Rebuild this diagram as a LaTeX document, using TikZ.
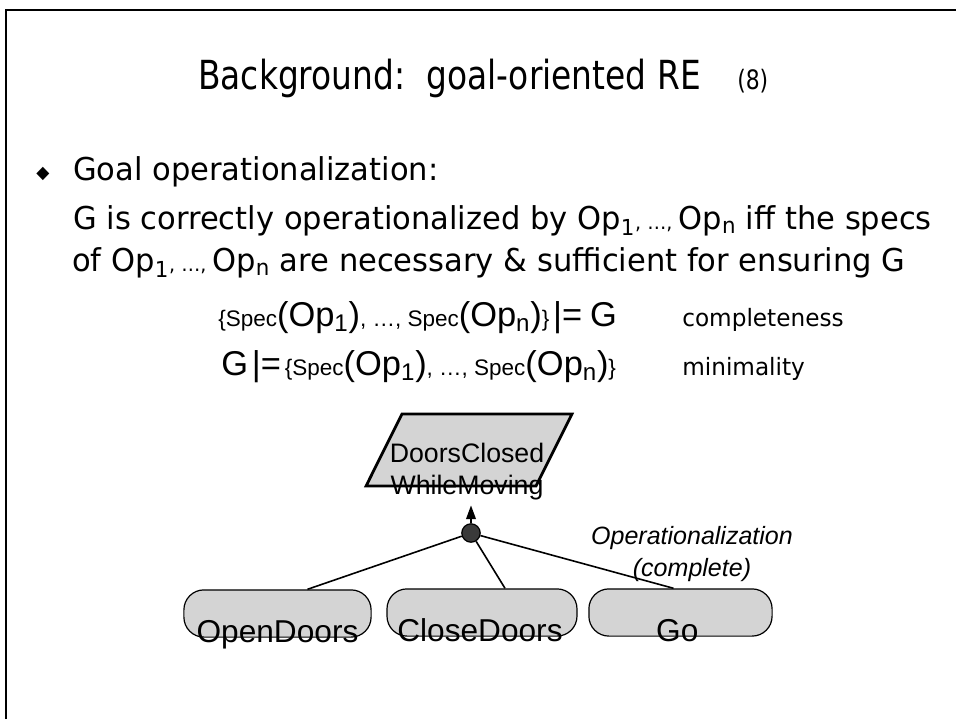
\documentclass[tikz,border=0pt]{standalone}
\usepackage{fontspec}
\usetikzlibrary{positioning,arrows.meta,shapes.geometric,calc}
\setmainfont{Liberation Sans}
\newfontfamily\slidefont[FakeStretch=0.97]{DejaVu Sans}
\newfontfamily\titlefont[FakeStretch=0.82]{DejaVu Sans}
\definecolor{boxgray}{HTML}{D4D4D4}
\definecolor{andgray}{HTML}{3A3A3A}
\newcommand\specsmall{\fontsize{16}{18}\selectfont}
\newcommand\specbig{\fontsize{24.5}{28}\selectfont}
\newcommand\etcsmall{\fontsize{14}{16}\selectfont}
\newcommand\opsn{Op\textsubscript{1}{\etcsmall, …, }Op\textsubscript{n}}
\newcommand\specop[1]{{\specsmall Spec}{\specbig(Op\textsubscript{#1})}}

\begin{document}
\begin{tikzpicture}[x=0.25mm, y=-0.25mm,
  slide/.style={inner sep=0pt, anchor=base west},
  bodytext/.style={slide, font=\slidefont\fontsize{22.4}{27}\selectfont},
  spectext/.style={slide, font=\slidefont\fontsize{17}{20}\selectfont},
  goal/.style={trapezium, trapezium left angle=75, trapezium right angle=105,
               trapezium stretches=true, draw, line width=0.7mm, fill=boxgray,
               minimum width=51.5mm, minimum height=18mm},
  goaltext/.style={font=\fontsize{19}{22.8}\selectfont, align=center, inner sep=0pt},
  oper/.style={draw, line width=0.3mm, fill=boxgray, rounded corners=5mm,
               minimum height=11.8mm},
  opname/.style={anchor=base, inner sep=0pt, yshift=-1.3mm,
                 font=\fontsize{22.5}{26}\selectfont},
  andnode/.style={circle, draw, line width=0.3mm, fill=andgray,
                  minimum size=4.6mm, inner sep=0pt},
  link/.style={line width=0.4mm}
]
\useasboundingbox (0,0) rectangle (956,719);
\draw[line width=0.5mm] (6,719) -- (6,10) -- (956,10);

\node[slide, font=\titlefont\fontsize{28.5}{33}\selectfont] (title) at (198,89)
    {Background:\ \ goal-oriented RE};
\node[slide, font=\titlefont\fontsize{19}{24}\selectfont,
      right=9mm of title.base east, anchor=base west] (num) {(8)};

\node[slide, font=\slidefont\fontsize{12.5}{15}\selectfont] (bullet) at (36,178) {◆};
\node[bodytext] (goalop) at (73,180) {Goal operationalization:};
\node[bodytext] (line1) at (73,229) {G is correctly operationalized by \opsn{} iff the specs};
\node[bodytext] (line2) at (72,271) {of \opsn{} are necessary \& sufficient for ensuring G};

\node[slide] (compl) at (218,326)
    {{\specsmall\{}\specop{1}{\specsmall, …, }\specop{n}{\specsmall\}}~{\specbig|}{\specbig=}~~{\specbig G}};
\node[spectext] (compltag) at (682,326) {completeness};
\node[slide] (minim) at (221,375)
    {{\specbig G}~{\specbig|}{\specbig=}~{\specsmall\{}\specop{1}{\specsmall, …, }\specop{n}{\specsmall\}}};
\node[spectext] (minimtag) at (682,375) {minimality};

\node[goal] (goal) at (469,450) {};
\node[goaltext, anchor=south] (goalname) at ([xshift=-0.5mm, yshift=-3.2mm]goal.south)
    {DoorsClosed\\WhileMoving};
\node[andnode] (and) at (471,533) {};

\node[oper, minimum width=46.8mm] (od) at (277.5,613.5) {};
\node[oper, minimum width=47.5mm] (cd) at (482,612.5) {};
\node[oper, minimum width=45.8mm] (go) at (680.5,612.5) {};
\node[opname] (odname) at (od.south) {OpenDoors};
\node[opname] (cdname) at ([xshift=-0.5mm]cd.south) {CloseDoors};
\node[opname] (goname) at ([xshift=-0.8mm]go.south) {Go};

\draw[link, -{Triangle[length=3.4mm, width=2.4mm]}, shorten >=4.5mm] (and) -- (and |- goal.south);
\draw[link] (and) -- ($(od.north)+(30,0)$);
\draw[link] (and) -- ($(cd.north)+(23,0)$);
\draw[link] (and) -- ($(go.north)+(-7,0)$);

\node[font=\itshape\fontsize{17.8}{22.5}\selectfont, align=center] (opl) at (692,554)
    {Operationalization\\(complete)};
\end{tikzpicture}
\end{document}
